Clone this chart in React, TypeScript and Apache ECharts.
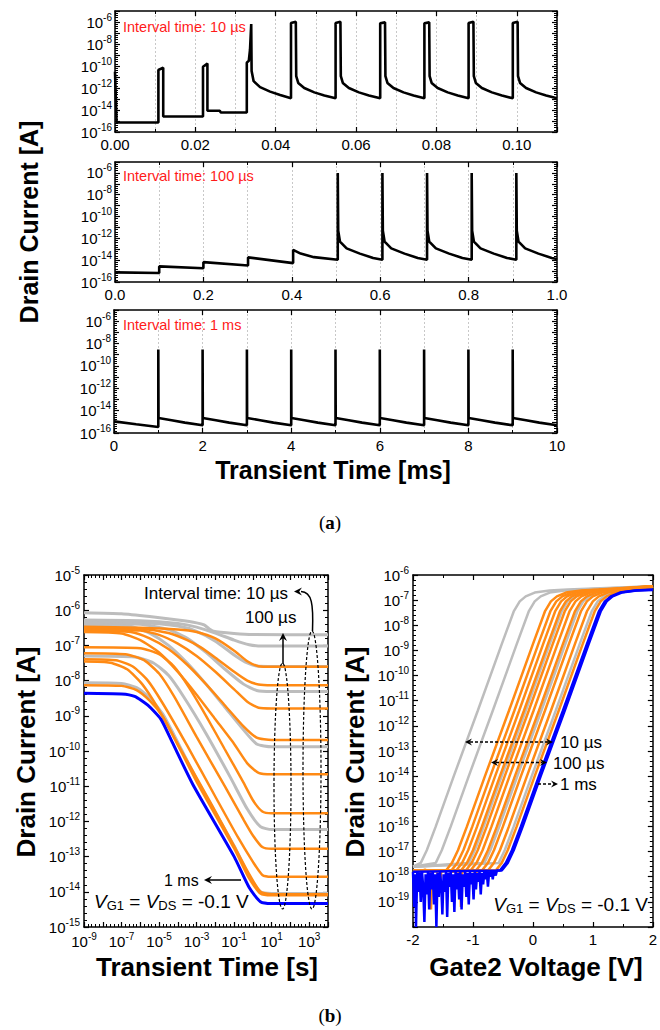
import React, { useEffect, useRef } from "react";
import * as echarts from "echarts";

const FONT = "'Liberation Sans', Arial, Helvetica, sans-serif";
const SERIF = "'Liberation Serif', 'Times New Roman', serif";

// ---------------- Panel (a): drain current vs time, [time (ms), current (A)] ----------------
const traceInterval10us: [number, number][] = [
  [0, 3e-11], [0.0004, 7.2e-16], [0.0108, 7.2e-16], [0.0108, 4.3e-11], [0.012, 7e-11], [0.012, 2.6e-15],
  [0.0219, 2.6e-15], [0.0219, 8.5e-11], [0.023, 1.7e-10], [0.023, 8.5e-15], [0.0261, 8.5e-15], [0.0263, 5.9e-15],
  [0.0328, 5.9e-15], [0.0328, 2e-10], [0.0333, 3e-10], [0.0336, 3e-9], [0.0339, 6.6e-7], [0.034, 3.5e-11],
  [0.0345, 4.2e-12], [0.0361, 1.2e-12], [0.0386, 4.7e-13], [0.0411, 2.3e-13], [0.0438, 1.15e-13],
  [0.0438, 8e-7], [0.045, 1.05e-6], [0.0451, 1.2e-11], [0.0456, 2.9e-12], [0.0471, 1e-12], [0.0496, 4e-13], [0.0521, 2.1e-13], [0.0549, 1.15e-13],
  [0.0549, 8e-7], [0.0561, 1.05e-6], [0.0562, 1.2e-11], [0.0567, 2.9e-12], [0.0582, 1e-12], [0.0607, 4e-13], [0.0632, 2.1e-13], [0.066, 1.15e-13],
  [0.066, 7.5e-7], [0.0672, 9.5e-7], [0.0673, 1.2e-11], [0.0678, 2.9e-12], [0.0693, 1e-12], [0.0718, 4e-13], [0.0743, 2.1e-13], [0.077, 1.15e-13],
  [0.077, 7.5e-7], [0.0782, 9.5e-7], [0.0783, 1.2e-11], [0.0788, 2.9e-12], [0.0803, 1e-12], [0.0828, 4e-13], [0.0853, 2.1e-13], [0.088, 1.15e-13],
  [0.088, 8e-7], [0.0892, 1.05e-6], [0.0893, 1.2e-11], [0.0898, 2.9e-12], [0.0913, 1e-12], [0.0938, 4e-13], [0.0963, 2.1e-13], [0.099, 1.15e-13],
  [0.099, 8e-7], [0.1002, 1.05e-6], [0.1003, 1.2e-11], [0.1008, 2.9e-12], [0.1023, 1e-12], [0.1048, 4e-13], [0.1073, 2.1e-13], [0.11, 1.15e-13],
];

const traceInterval100us: [number, number][] = [
  [0, 7.6e-16], [0.1, 6.6e-16], [0.1, 2.7e-15], [0.2, 1.8e-15], [0.2, 6.6e-15], [0.301, 3.3e-15],
  [0.301, 1.8e-14], [0.403, 5.4e-15], [0.403, 8.9e-14], [0.42, 4e-14], [0.45, 1.9e-14], [0.504, 1.1e-14],
  [0.504, 1e-6], [0.505, 5e-12], [0.509, 5e-13], [0.524, 1.2e-13], [0.554, 4e-14], [0.584, 1.6e-14], [0.605, 1.1e-14],
  [0.605, 1e-6], [0.606, 5e-12], [0.61, 5e-13], [0.625, 1.2e-13], [0.655, 4e-14], [0.685, 1.6e-14], [0.706, 1.1e-14],
  [0.706, 1e-6], [0.707, 5e-12], [0.711, 5e-13], [0.726, 1.2e-13], [0.756, 4e-14], [0.786, 1.6e-14], [0.807, 1.1e-14],
  [0.807, 1e-6], [0.808, 5e-12], [0.812, 5e-13], [0.827, 1.2e-13], [0.857, 4e-14], [0.887, 1.6e-14], [0.908, 1.1e-14],
  [0.908, 1e-6], [0.909, 5e-12], [0.913, 5e-13], [0.928, 1.2e-13], [0.958, 4e-14], [0.988, 1.6e-14], [1.0, 1.3e-14],
];

const traceInterval1ms: [number, number][] = [
  [0, 1.1e-15], [0.5, 6e-16], [1, 3.5e-16],
  [1, 3e-9], [1.005, 2.2e-15], [1.3, 1.4e-15], [1.6, 8.5e-16], [2, 4.9e-16],
  [2, 3e-9], [2.005, 2.2e-15], [2.3, 1.4e-15], [2.6, 8.5e-16], [3, 4.9e-16],
  [3, 3e-9], [3.005, 2.2e-15], [3.3, 1.4e-15], [3.6, 8.5e-16], [4, 4.9e-16],
  [4, 3e-9], [4.005, 2.2e-15], [4.3, 1.4e-15], [4.6, 8.5e-16], [5, 4.9e-16],
  [5, 3e-9], [5.005, 2.2e-15], [5.3, 1.4e-15], [5.6, 8.5e-16], [6, 4.9e-16],
  [6, 3e-9], [6.005, 2.2e-15], [6.3, 1.4e-15], [6.6, 8.5e-16], [7, 4.9e-16],
  [7, 3e-9], [7.005, 2.2e-15], [7.3, 1.4e-15], [7.6, 8.5e-16], [8, 4.9e-16],
  [8, 3e-9], [8.005, 2.2e-15], [8.3, 1.4e-15], [8.6, 8.5e-16], [9, 4.9e-16],
  [9, 3e-9], [9.005, 2.2e-15], [9.3, 1.4e-15], [9.6, 8.5e-16], [10, 4.9e-16],
];

// ---------------- Panel (b) left: [log10 t (s), log10 I (A)] ----------------
const transientGray: [number, number][][] = [
  [[-9, -6.07], [-7, -6.1], [-5.5, -6.18], [-4, -6.28], [-3, -6.36], [-2.6, -6.42], [-2.35, -6.52], [-2.1, -6.6], [-1, -6.66], [0, -6.69], [4, -6.7]],
  [[-9, -6.28], [-6, -6.3], [-4, -6.38], [-3, -6.48], [-2, -6.65], [-1, -6.85], [-0.2, -6.98], [0.5, -7.02], [4, -7.02]],
  [[-9, -6.33], [-6, -6.36], [-4, -6.45], [-3, -6.6], [-2, -6.88], [-1, -7.27], [-0.3, -7.5], [0.3, -7.59], [4, -7.6]],
  [[-9, -6.37], [-6, -6.4], [-4.5, -6.55], [-3.5, -6.8], [-2.5, -7.2], [-1.5, -7.67], [-0.5, -8.1], [0.2, -8.28], [1, -8.31], [4, -8.31]],
  [[-9, -6.42], [-6.5, -6.46], [-5.5, -6.65], [-4.5, -7.0], [-3.5, -7.5], [-2.5, -8.1], [-1.5, -8.75], [-0.5, -9.4], [0.2, -9.8], [1, -9.88], [4, -9.88]],
  [[-9, -7.3], [-6.3, -7.33], [-5.3, -7.5], [-4.5, -7.85], [-3.7, -8.45], [-2.5, -9.5], [-1.2, -10.75], [-0.3, -11.65], [0.4, -12.15], [1, -12.23], [4, -12.23]],
  [[-9, -8.06], [-7, -8.08], [-6.2, -8.2], [-5.5, -8.5], [-4.8, -8.95], [-4.2, -9.55], [-3, -10.8], [-1, -12.7], [-0.2, -13.55], [0.4, -14.0], [1, -14.05], [4, -14.05]],
];

const transientOrange: [number, number][][] = [
  [[-9, -6.47], [-6, -6.5], [-4, -6.55], [-3, -6.62], [-2, -6.8], [-1, -7.15], [-0.3, -7.45], [0.3, -7.59], [1, -7.61], [4, -7.61]],
  [[-9, -6.5], [-6, -6.53], [-4.5, -6.65], [-3.5, -6.85], [-2.8, -7.05], [-2, -7.35], [-1, -7.75], [-0.3, -8.0], [0.3, -8.11], [1, -8.13], [4, -8.13]],
  [[-9, -6.54], [-6, -6.58], [-5, -6.7], [-4, -6.95], [-3, -7.3], [-2, -7.75], [-1, -8.25], [-0.3, -8.6], [0.3, -8.77], [1, -8.79], [4, -8.79]],
  [[-9, -6.58], [-6.5, -6.62], [-5.5, -6.8], [-4.5, -7.1], [-3.5, -7.55], [-2.5, -8.1], [-1.5, -8.7], [-0.5, -9.3], [0.2, -9.62], [1, -9.69], [4, -9.69]],
  [[-9, -6.62], [-7, -6.66], [-6, -6.85], [-5, -7.2], [-4, -7.75], [-3, -8.4], [-2, -9.1], [-1, -9.8], [-0.3, -10.35], [0.3, -10.62], [1, -10.66], [4, -10.66]],
  [[-9, -7.05], [-6, -7.08], [-5, -7.25], [-4.2, -7.6], [-3.4, -8.2], [-2.5, -9.0], [-1.5, -9.95], [-0.5, -10.9], [0, -11.4], [0.5, -11.72], [1, -11.77], [4, -11.77]],
  [[-9, -7.22], [-6.8, -7.25], [-5.8, -7.42], [-5, -7.8], [-4.2, -8.45], [-3, -9.6], [-1.5, -11.0], [-0.5, -11.95], [0, -12.4], [0.5, -12.73], [1, -12.78], [4, -12.78]],
  [[-9, -7.39], [-7.3, -7.42], [-6.4, -7.6], [-5.6, -8.0], [-4.8, -8.65], [-3.5, -9.85], [-2, -11.3], [-0.8, -12.45], [0, -13.15], [0.5, -13.52], [1, -13.57], [4, -13.57]],
  [[-9, -7.46], [-7.6, -7.49], [-6.7, -7.68], [-5.9, -8.1], [-5.1, -8.75], [-3.8, -10.0], [-2.2, -11.52], [-1, -12.7], [-0.2, -13.5], [0.4, -14.0], [1, -14.07], [4, -14.07]],
  [[-9, -8.13], [-7, -8.15], [-6.2, -8.27], [-5.5, -8.57], [-4.8, -9.02], [-4.2, -9.62], [-3, -10.87], [-1, -12.77], [-0.2, -13.62], [0.4, -14.05], [1, -14.1], [4, -14.1]],
];

const transientBlue: [number, number][] = [
  [-9, -8.36], [-7, -8.38], [-6.3, -8.45], [-5.6, -8.7], [-4.9, -9.1], [-4.3, -9.75], [-3.2, -10.95], [-1, -13.0], [-0.2, -13.88], [0.4, -14.28], [1, -14.33], [4, -14.33],
];

// ---------------- Panel (b) right: [Gate2 V, log10 I (A)] ----------------
const transferTemplate: [number, number][] = [
  [-0.55, -17.75], [-0.45, -17.45], [-0.35, -16.95], [-0.2, -16.0], [0.1, -14.0], [0.5, -11.4], [0.9, -8.75],
  [1.1, -7.45], [1.2, -7.05], [1.3, -6.85], [1.45, -6.7], [1.7, -6.62], [2, -6.58],
];
const transferGrayShift = [-1.42, -1.17, -0.62, -0.36, -0.12];
const transferOrangeShift = [-0.9, -0.81, -0.73, -0.65, -0.57, -0.49, -0.4, -0.3, -0.2, -0.07];
const transferBlueShift = [0, 0.03];
const transferBlueNoise: [number, number][] = [
  [-2.0, -17.8], [-1.98, -19.2], [-1.96, -17.9], [-1.95, -20.0], [-1.93, -17.8], [-1.91, -18.6], [-1.89, -17.85], [-1.87, -19.0],
  [-1.85, -17.8], [-1.83, -18.4], [-1.81, -19.8], [-1.79, -17.9], [-1.77, -18.7], [-1.75, -17.8], [-1.73, -19.3], [-1.71, -17.85],
  [-1.69, -18.5], [-1.67, -17.8], [-1.65, -19.1], [-1.63, -17.9], [-1.61, -20.0], [-1.59, -17.85], [-1.57, -18.8], [-1.55, -17.8],
  [-1.53, -18.3], [-1.51, -19.5], [-1.49, -17.9], [-1.47, -18.6], [-1.45, -17.8], [-1.43, -19.6], [-1.41, -17.85], [-1.39, -18.4],
  [-1.37, -17.8], [-1.35, -19.0], [-1.33, -17.9], [-1.31, -19.4], [-1.29, -17.8], [-1.27, -18.5], [-1.25, -17.85], [-1.23, -18.9],
  [-1.21, -17.8], [-1.19, -19.3], [-1.17, -17.9], [-1.15, -18.4], [-1.13, -17.8], [-1.11, -18.8], [-1.09, -17.85], [-1.07, -19.1],
  [-1.05, -17.8], [-1.03, -18.3], [-1.01, -17.85], [-0.99, -18.9], [-0.97, -17.8], [-0.95, -18.5], [-0.93, -17.85], [-0.91, -18.2],
  [-0.89, -17.8], [-0.87, -18.7], [-0.85, -17.85], [-0.83, -18.3], [-0.81, -17.8], [-0.79, -18.1], [-0.77, -17.8], [-0.75, -18.4],
  [-0.73, -17.8], [-0.71, -18.0], [-0.69, -17.75], [-0.67, -18.1], [-0.65, -17.75], [-0.62, -17.95], [-0.6, -17.75],
];
const transferOrangeNoise: [number, number][] = [
  [-2, -17.75], [-1.9, -17.8], [-1.8, -17.72], [-1.72, -17.8], [-1.7, -19.3], [-1.68, -17.8], [-1.6, -17.75], [-1.55, -18.4],
  [-1.53, -17.8], [-1.45, -17.75], [-1.35, -17.8], [-1.22, -17.78], [-1.2, -19.2], [-1.18, -17.8], [-1.05, -17.75], [-0.95, -17.8], [-0.85, -17.75],
];
const GRAY_FLOOR = -17.6;
const ORANGE_FLOOR = -17.75;
const BLUE_FLOOR = -17.8;
const SAT_LEVEL = -6.45;

const GRAY = "#bdbdbd";
const ORANGE = "#ff8a14";
const BLUE = "#0000ff";

function buildTransfer(shift: number, floor: number, sat: number, noise?: [number, number][]) {
  const pts: [number, number][] = [];
  const knee = transferTemplate[0][0] + shift;
  if (noise) noise.forEach((p) => { if (p[0] < knee) pts.push(p); });
  else pts.push([-2, floor]);
  transferTemplate.forEach(([v, l]) => {
    const x = v + shift;
    if (x > -2 && x <= 2 && l >= floor) pts.push([x, l]);
  });
  if (pts[pts.length - 1][0] < 2) pts.push([2, sat]);
  return pts;
}

const toLogI = (pts: [number, number][]) => pts.map(([t, i]) => [t, Math.log10(i)]);

function expLabel(keep: (e: number) => boolean, fs: number, margin: number) {
  return {
    show: true,
    margin,
    color: "#000",
    fontFamily: FONT,
    fontSize: fs,
    showMinLabel: true,
    showMaxLabel: true,
    formatter: (v: number) => {
      const e = Math.round(v);
      return keep(e) ? `{b|10}{s|${e}}` : "";
    },
    rich: {
      b: { fontSize: fs, fontFamily: FONT, color: "#000" },
      s: { fontSize: fs - 5, fontFamily: FONT, color: "#000", padding: [0, 0, 10, 0] },
    },
  };
}

function axis(grid: number, min: number, max: number, interval: number, minorSplit: number, position: string, label: any, extra: any = {}) {
  return {
    type: "value",
    gridIndex: grid,
    min,
    max,
    interval,
    position,
    axisLine: { show: true, onZero: false, lineStyle: { color: "#000", width: 1.5 } },
    axisTick: { show: true, inside: true, length: 5, lineStyle: { color: "#000", width: 1.2 } },
    minorTick: { show: true, splitNumber: minorSplit, length: 3, lineStyle: { color: "#000", width: 1 } },
    axisLabel: label,
    splitLine: { show: false },
    ...extra,
  };
}

const near = (v: number, step: number) => Math.abs(v / step - Math.round(v / step)) < 1e-6;

function buildOption(): any {
  const hidden = { show: false };
  const dash = { show: true, lineStyle: { color: "#c8c8c8", type: [2, 2], width: 1 } };
  const xLab = (fmt: (v: number) => string, fs = 15) => ({
    show: true, margin: 5, color: "#000", fontFamily: FONT, fontSize: fs, showMinLabel: true, showMaxLabel: true, formatter: fmt,
  });

  const xAxes = [
    axis(0, 0, 0.11, 0.02, 2, "bottom", xLab((v) => (near(v, 0.02) ? v.toFixed(2) : "")), { splitLine: dash, minorSplitLine: dash }),
    axis(1, 0, 1, 0.2, 2, "bottom", xLab((v) => (near(v, 0.2) ? v.toFixed(1) : "")), { splitLine: dash, minorSplitLine: dash }),
    axis(2, 0, 10, 2, 2, "bottom", xLab((v) => String(Math.round(v))), { splitLine: dash, minorSplitLine: dash }),
    axis(3, -9, 4, 1, 5, "bottom", expLabel((e) => Math.abs(e % 2) === 1, 15, 4)),
    axis(4, -2, 2, 1, 2, "bottom", xLab((v) => String(Math.round(v))), {}),
    axis(0, 0, 0.11, 0.02, 2, "top", hidden),
    axis(1, 0, 1, 0.2, 2, "top", hidden),
    axis(2, 0, 10, 2, 2, "top", hidden),
    axis(3, -9, 4, 1, 5, "top", hidden),
    axis(4, -2, 2, 1, 2, "top", hidden),
  ];
  const yAxes = [
    axis(0, -16, -5, 1, 5, "left", expLabel((e) => e % 2 === 0, 15, 3)),
    axis(1, -16, -5, 1, 5, "left", expLabel((e) => e % 2 === 0, 15, 3)),
    axis(2, -16, -5, 1, 5, "left", expLabel((e) => e % 2 === 0, 15, 3)),
    axis(3, -15, -5, 1, 5, "left", expLabel(() => true, 15, 4)),
    axis(4, -20, -6, 1, 5, "left", expLabel((e) => e > -20, 15, 4)),
    axis(0, -16, -5, 1, 5, "right", hidden),
    axis(1, -16, -5, 1, 5, "right", hidden),
    axis(2, -16, -5, 1, 5, "right", hidden),
    axis(3, -15, -5, 1, 5, "right", hidden),
    axis(4, -20, -6, 1, 5, "right", hidden),
  ];

  const line = (grid: number, data: any[], color: string, width: number, z: number, smooth: any = false) => ({
    type: "line",
    xAxisIndex: grid,
    yAxisIndex: grid,
    data,
    symbol: "none",
    showSymbol: false,
    smooth,
    silent: true,
    z,
    lineStyle: { color, width },
  });

  const series: any[] = [
    line(0, toLogI(traceInterval10us), "#000", 2.6, 3),
    line(1, toLogI(traceInterval100us), "#000", 2.6, 3),
    line(2, toLogI(traceInterval1ms), "#000", 2.6, 3),
  ];
  transientGray.forEach((c) => series.push(line(3, c, GRAY, 3, 2, 0.2)));
  transientOrange.forEach((c) => series.push(line(3, c, ORANGE, 2.5, 3, 0.2)));
  series.push(line(3, transientBlue, BLUE, 3, 4, 0.2));

  transferGrayShift.forEach((d) => series.push(line(4, buildTransfer(d, GRAY_FLOOR, SAT_LEVEL), GRAY, 2.5, 2)));
  transferOrangeShift.forEach((d, i) =>
    series.push(line(4, buildTransfer(d, ORANGE_FLOOR, SAT_LEVEL, i === 8 ? transferOrangeNoise : undefined), ORANGE, 2.5, 3))
  );
  transferBlueShift.forEach((d, i) =>
    series.push(line(4, buildTransfer(d, BLUE_FLOOR, -6.6, i === 0 ? transferBlueNoise : undefined), BLUE, 2.5, 4))
  );

  const txt = (x: number, y: number, text: string, fs: number, extra: any = {}, styleExtra: any = {}) => ({
    type: "text",
    x,
    y,
    z: 100,
    ...extra,
    style: { text, fontSize: fs, fontFamily: FONT, fill: "#000", align: "left", verticalAlign: "middle", ...styleExtra },
  });
  const seg = (x1: number, y1: number, x2: number, y2: number, dashed = false) => ({
    type: "line",
    z: 100,
    shape: { x1, y1, x2, y2 },
    style: { stroke: "#000", lineWidth: 1.5, lineDash: dashed ? [3, 2] : null },
  });
  const head = (x: number, y: number, dir: string, len = 8, half = 4) => {
    let pts: number[][] = [];
    if (dir === "left") pts = [[x, y], [x + len, y - half], [x + len * 0.65, y], [x + len, y + half]];
    if (dir === "right") pts = [[x, y], [x - len, y - half], [x - len * 0.65, y], [x - len, y + half]];
    if (dir === "up") pts = [[x, y], [x - half, y + len], [x, y + len * 0.65], [x + half, y + len]];
    return { type: "polygon", z: 101, shape: { points: pts }, style: { fill: "#000" } };
  };
  const vgRich = {
    i: { fontSize: 19, fontFamily: FONT, fontStyle: "italic", fill: "#000", color: "#000" },
    n: { fontSize: 19, fontFamily: FONT, fill: "#000", color: "#000" },
    u: { fontSize: 13, fontFamily: FONT, fill: "#000", color: "#000", padding: [9, 0, 0, 0] },
  };
  const vgText = "{i|V}{u|G1}{n| = }{i|V}{u|DS}{n| = -0.1 V}";

  const graphic: any[] = [
    // Panel (a) red labels
    txt(123, 27, "Interval time: 10 µs", 14.5, {}, { fill: "#ff1a1a" }),
    txt(123, 176, "Interval time: 100 µs", 14.5, {}, { fill: "#ff1a1a" }),
    txt(123, 325, "Interval time: 1 ms", 14.5, {}, { fill: "#ff1a1a" }),
    // Panel (a) titles
    txt(29, 222, "Drain Current [A]", 25, { rotation: Math.PI / 2 }, { fontWeight: "bold", align: "center" }),
    txt(333, 470, "Transient Time [ms]", 25, {}, { fontWeight: "bold", align: "center" }),
    {
      type: "text", x: 330, y: 522, z: 100,
      style: {
        text: "{p|(}{b|a}{p|)}", align: "center", verticalAlign: "middle",
        rich: { p: { fontFamily: SERIF, fontSize: 19, fill: "#000" }, b: { fontFamily: SERIF, fontSize: 19, fontWeight: "bold", fill: "#000" } },
      },
    },
    {
      type: "text", x: 330, y: 1015, z: 100,
      style: {
        text: "{p|(}{b|b}{p|)}", align: "center", verticalAlign: "middle",
        rich: { p: { fontFamily: SERIF, fontSize: 19, fill: "#000" }, b: { fontFamily: SERIF, fontSize: 19, fontWeight: "bold", fill: "#000" } },
      },
    },
    // Panel (b) titles
    txt(26, 752, "Drain Current [A]", 26, { rotation: Math.PI / 2 }, { fontWeight: "bold", align: "center" }),
    txt(207, 967, "Transient Time [s]", 26, {}, { fontWeight: "bold", align: "center" }),
    txt(355, 752, "Drain Current [A]", 26, { rotation: Math.PI / 2 }, { fontWeight: "bold", align: "center" }),
    txt(536, 967, "Gate2 Voltage [V]", 26, {}, { fontWeight: "bold", align: "center" }),
    // Panel (b) left annotations
    txt(144, 593, "Interval time: 10 µs", 17),
    txt(245, 617, "100 µs", 17),
    {
      type: "ellipse", z: 100, shape: { cx: 282.5, cy: 786, rx: 8.5, ry: 123 },
      style: { fill: "none", stroke: "#000", lineWidth: 1.2, lineDash: [3, 2] },
    },
    {
      type: "ellipse", z: 100, shape: { cx: 312, cy: 770, rx: 9, ry: 139 },
      style: { fill: "none", stroke: "#000", lineWidth: 1.2, lineDash: [3, 2] },
    },
    seg(283, 664, 283, 638),
    head(283, 633, "up"),
    {
      type: "bezierCurve", z: 100,
      shape: { x1: 312.5, y1: 631, cpx1: 313.5, cpy1: 604, cpx2: 312, cpy2: 592, x2: 301, y2: 591.5 },
      style: { stroke: "#000", lineWidth: 1.5, fill: "none" },
    },
    head(294, 591.5, "left"),
    txt(164, 880, "1 ms", 16),
    seg(241, 880, 209, 880),
    head(204, 880, "left"),
    { type: "text", x: 94, y: 901, z: 100, style: { text: vgText, rich: vgRich, align: "left", verticalAlign: "middle" } },
    // Panel (b) right annotations
    seg(470, 742, 548, 742, true),
    head(465, 742, "left", 7, 3.5),
    head(553, 742, "right", 7, 3.5),
    txt(560, 742, "10 µs", 17),
    seg(496, 762.5, 542, 762.5, true),
    head(491, 762.5, "left", 7, 3.5),
    head(547, 762.5, "right", 7, 3.5),
    txt(553, 763, "100 µs", 17),
    seg(538, 784, 553, 784, true),
    head(558, 784, "right", 7, 3.5),
    txt(560, 784, "1 ms", 17),
    { type: "text", x: 648, y: 904, z: 100, style: { text: vgText, rich: vgRich, align: "right", verticalAlign: "middle" } },
  ];

  return {
    animation: false,
    backgroundColor: "#fff",
    textStyle: { fontFamily: FONT },
    grid: [
      { left: 115, top: 11, width: 442, height: 121 },
      { left: 115, top: 162, width: 442, height: 120 },
      { left: 114, top: 310, width: 443, height: 123 },
      { left: 84, top: 575, width: 244, height: 352 },
      { left: 413, top: 575, width: 246, height: 352 },
    ],
    xAxis: xAxes,
    yAxis: yAxes,
    series,
    graphic,
  };
}

export default function App() {
  const ref = useRef<HTMLDivElement>(null);
  useEffect(() => {
    if (!ref.current) return;
    const chart = echarts.init(ref.current, null, { renderer: "svg" });
    chart.setOption(buildOption());
    return () => chart.dispose();
  }, []);
  return (
    <div
      ref={ref}
      style={{ position: "absolute", left: 0, top: 0, width: 660, height: 1030, background: "#fff" }}
    />
  );
}
